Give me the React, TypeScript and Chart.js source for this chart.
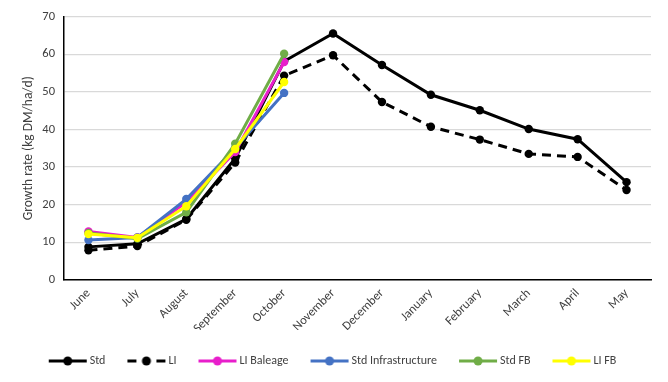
import React, { useEffect, useRef } from "react";
import { Chart, registerables } from "chart.js";

Chart.register(...registerables);

const months = ["June", "July", "August", "September", "October", "November", "December", "January", "February", "March", "April", "May"];
const stdValues = [8.8, 9.6, 16.2, 32.3, 58.1, 65.5, 57.1, 49.2, 45.1, 40.1, 37.4, 26.0];
const liValues = [7.9, 9.0, 16.0, 31.2, 54.3, 59.7, 47.3, 40.7, 37.3, 33.5, 32.7, 23.9];
const liBaleageValues = [12.9, 11.3, 20.7, 34.0, 57.9, null, null, null, null, null, null, null];
const stdInfraValues = [10.6, 11.3, 21.5, 35.0, 49.7, null, null, null, null, null, null, null];
const stdFbValues = [12.5, 11.0, 18.0, 36.2, 60.1, null, null, null, null, null, null, null];
const liFbValues = [12.2, 11.2, 19.6, 34.8, 52.6, null, null, null, null, null, null, null];
const yTicks = [0, 10, 20, 30, 40, 50, 60, 70];

const FONT = "Carlito, Calibri, Lato, sans-serif";
const TEXT = "#404040";

function legendIcon(color: string, dashed: boolean): HTMLCanvasElement {
  const c = document.createElement("canvas");
  c.width = 40;
  c.height = 12;
  const ctx = c.getContext("2d")!;
  ctx.strokeStyle = color;
  ctx.fillStyle = color;
  ctx.lineWidth = 3;
  ctx.beginPath();
  if (dashed) {
    ctx.moveTo(1, 6);
    ctx.lineTo(10, 6);
    ctx.moveTo(30, 6);
    ctx.lineTo(39, 6);
  } else {
    ctx.moveTo(1, 6);
    ctx.lineTo(39, 6);
  }
  ctx.stroke();
  ctx.beginPath();
  ctx.arc(20, 6, 4.5, 0, Math.PI * 2);
  ctx.fill();
  return c;
}

export default function App() {
  const ref = useRef<HTMLCanvasElement | null>(null);
  useEffect(() => {
    if (!ref.current) return;
    const series = [
      { label: "Std", data: stdValues, color: "#000000", dashed: false },
      { label: "LI", data: liValues, color: "#000000", dashed: true },
      { label: "LI Baleage", data: liBaleageValues, color: "#E81ECB", dashed: false },
      { label: "Std Infrastructure", data: stdInfraValues, color: "#4472C4", dashed: false },
      { label: "Std FB", data: stdFbValues, color: "#70AD47", dashed: false },
      { label: "LI FB", data: liFbValues, color: "#FFFF00", dashed: false },
    ];
    const icons: Record<string, HTMLCanvasElement> = {};
    series.forEach((s) => (icons[s.label] = legendIcon(s.color, s.dashed)));
    const datasets = series
      .map((s) => ({
        label: s.label,
        data: s.data,
        borderColor: s.color,
        backgroundColor: s.color,
        borderWidth: 3,
        borderDash: s.dashed ? [9, 6] : [],
        pointRadius: 4.2,
        pointHoverRadius: 4.2,
        pointBorderWidth: 0,
        pointBackgroundColor: s.color,
        fill: false,
        tension: 0,
        spanGaps: false,
      }))
      .reverse();

    const chart = new Chart(ref.current, {
      type: "line",
      data: { labels: months, datasets },
      options: {
        animation: false,
        responsive: true,
        maintainAspectRatio: false,
        layout: { padding: { left: 17, right: 17, top: 14, bottom: 5 } },
        plugins: {
          tooltip: { enabled: false },
          legend: {
            position: "bottom",
            align: "center",
            reverse: true,
            labels: {
              usePointStyle: true,
              pointStyleWidth: 32,
              padding: 25,
              color: TEXT,
              font: { family: FONT, size: 12 },
              generateLabels: (ch: any) => {
                const items = Chart.defaults.plugins.legend.labels.generateLabels(ch);
                return items.map((it: any) => ({ ...it, pointStyle: icons[it.text], lineWidth: 0 }));
              },
            },
          },
        },
        scales: {
          x: {
            type: "category",
            offset: true,
            grid: { display: false, drawTicks: false },
            border: { display: true, color: "#000000", width: 1.5 },
            ticks: {
              autoSkip: false,
              maxRotation: 45,
              minRotation: 45,
              padding: 6,
              color: TEXT,
              font: { family: FONT, size: 12.5 },
            },
            afterFit: (scale: any) => {
              scale.height = 50;
            },
          },
          y: {
            min: 0,
            max: 70,
            afterBuildTicks: (scale: any) => {
              scale.ticks = yTicks.map((v) => ({ value: v }));
            },
            grid: { color: "#D9D9D9", lineWidth: 1.2, drawTicks: false },
            border: { display: true, color: "#000000", width: 1.5 },
            ticks: {
              padding: 9,
              color: TEXT,
              font: { family: FONT, size: 12.5 },
            },
            title: {
              display: true,
              text: "Growth rate (kg DM/ha/d)",
              color: TEXT,
              font: { family: FONT, size: 13.5 },
              padding: { top: 4, bottom: 4 },
            },
            afterFit: (scale: any) => {
              scale.width = 47;
            },
          },
        },
      },
    });
    return () => chart.destroy();
  }, []);
  return (
    <div style={{ position: "absolute", left: 0, top: 0, width: 668, height: 382, background: "#fff" }}>
      <canvas ref={ref} />
    </div>
  );
}
